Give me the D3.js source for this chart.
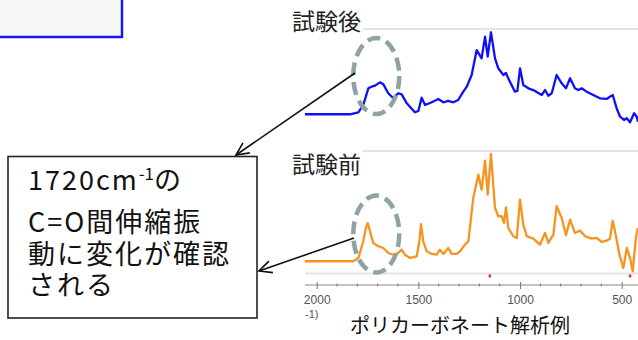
<!DOCTYPE html>
<html><head><meta charset="utf-8">
<script src="https://cdn.jsdelivr.net/npm/d3@7/dist/d3.min.js"></script>
<style>body{margin:0;background:#fff;}svg{display:block;}</style>
</head><body>
<svg id="c" width="638" height="340"></svg>
<script>
// ---- data ----
const afterWavenumber = [2058,1836,1795,1771,1746,1730,1713,1689,1672,1648,1623,1599,1582,1557,1517,1500,1484,1467,1434,1402,1377,1353,1328,1304,1279,1262,1238,1213,1189,1172,1159,1143,1123,1107,1082,1069,1058,1025,1013,1000,984,959,935,893,877,861,844,820,795,774,754,730,713,697,672,640,607,574,558,544,525,508,489,475,459,439,426,420];
const afterIntensity  = [11.3,11.3,13.4,21.1,38.6,40.3,41.4,44.9,42.8,33.4,28.1,33.4,32.3,22.8,13.4,14.7,28.7,21.1,23.9,27.4,23.9,25.3,23.9,26.3,35.1,40.3,52.6,78.9,70.2,92.9,71.9,97.6,70.2,59.7,52.6,54.7,49.1,35.1,35.8,59.7,42.1,38.6,36.8,31.6,36.8,30.8,33.4,52.6,43.9,38.6,49.2,38.6,36.8,38.6,35.1,31.6,28.1,27.4,29.8,31.6,17.6,8.7,5.3,7.1,2.8,12.3,8.7,3.5];
const beforeWavenumber = [2058,1820,1795,1771,1758,1749,1738,1722,1697,1672,1648,1615,1590,1582,1566,1541,1508,1495,1487,1476,1459,1434,1410,1394,1377,1353,1336,1311,1295,1271,1254,1230,1205,1189,1172,1159,1143,1123,1107,1090,1079,1069,1058,1033,1016,1000,984,967,935,902,877,861,836,820,795,774,754,730,705,680,648,623,598,574,558,544,528,512,492,475,459,446,430,420];
const beforeIntensity  = [8.8,8.8,11.5,25.2,36.1,40.2,33.4,23.8,21.1,19.7,15.6,13.7,17.0,18.3,14.2,11.5,12.9,25.2,39.3,25.2,17.0,14.8,14.2,18.3,14.8,19.7,14.8,14.8,17.0,22.4,25.2,60.7,79.8,67.5,91.2,63.4,96.7,52.5,45.7,45.7,40.2,53.0,36.1,29.3,27.9,59.3,38.8,29.3,27.3,22.4,32.0,23.8,30.6,53.9,44.3,30.1,42.9,32.0,33.9,29.3,27.3,27.9,24.6,25.7,27.3,42.0,29.3,14.8,3.3,19.7,11.5,0.6,28.4,36.1];
const majorTicks = [2000,1500,1000,500];
const minorTicks = [1900,1800,1700,1600,1400,1300,1200,1100,900,800,700,600];
const peakMarks = [1150,460];
const panelLabels = ["試験後","試験前"];
const titleText = "ポリカーボネート解析例";
const unitFragment = "-1)";
const noteLines = ["C=O間伸縮振","動に変化が確認","される"];
const noteFirst = ["1720cm","-1","の"];
const highlightWavenumber = 1712;

// ---- drawing ----
const svg = d3.select("#c");
const cjk = "'Noto Sans CJK JP','Noto Sans',sans-serif";

const x = d3.scaleLinear().domain([2000,500]).range([316.7,621.7]);
const yTop = d3.scaleLinear().domain([0,100]).range([125,30]);
const yBot = d3.scaleLinear().domain([0,100]).range([272,150]);

svg.append("defs").append("clipPath").attr("id","clip")
  .append("rect").attr("x",300).attr("y",0).attr("width",338).attr("height",340);

// top-left partial box
svg.append("rect").attr("x",-3).attr("y",-3).attr("width",125).attr("height",40)
  .attr("fill","#f7f7f7").attr("stroke","#1a1ae6").attr("stroke-width",2.5);

// panel separator lines
const sep = [[363,638,29],[363,638,151],[305,638,273.5]];
svg.selectAll("line.sep").data(sep).enter().append("line").attr("class","sep")
  .attr("x1",d=>d[0]).attr("x2",d=>d[1]).attr("y1",d=>d[2]).attr("y2",d=>d[2])
  .attr("stroke","#e4e4e4").attr("stroke-width",2);

// panel labels
svg.selectAll("text.pl").data(panelLabels).enter().append("text").attr("class","pl")
  .attr("x",292).attr("y",(d,i)=>i===0?30:173)
  .attr("font-family",cjk).attr("font-size",23).attr("fill","#222").text(d=>d);

// spectra
const lineTop = d3.line().x(d=>x(d[0])).y(d=>yTop(d[1]));
const lineBot = d3.line().x(d=>x(d[0])).y(d=>yBot(d[1]));
const g = svg.append("g").attr("clip-path","url(#clip)");
g.append("path").datum(afterWavenumber.map((w,i)=>[w,afterIntensity[i]]))
  .attr("d",lineTop).attr("fill","none").attr("stroke","#1010f5").attr("stroke-width",2.3)
  .attr("stroke-linejoin","round");
g.append("path").datum(beforeWavenumber.map((w,i)=>[w,beforeIntensity[i]]))
  .attr("d",lineBot).attr("fill","none").attr("stroke","#f7931e").attr("stroke-width",2.3)
  .attr("stroke-linejoin","round");

// small red peak markers
g.selectAll("rect.pm").data(peakMarks).enter().append("rect").attr("class","pm")
  .attr("x",d=>x(d)-1).attr("y",274.5).attr("width",2.5).attr("height",3).attr("fill","#f03030");

// axis
const axisY = 285;
svg.append("line").attr("x1",305).attr("x2",638).attr("y1",axisY).attr("y2",axisY)
  .attr("stroke","#888").attr("stroke-width",1);
const axis = d3.axisBottom(x).tickValues(majorTicks).tickSize(4).tickPadding(6).tickFormat(d3.format("d"));
const ga = svg.append("g").attr("transform",`translate(0,${axisY})`).call(axis);
ga.select(".domain").remove();
ga.selectAll(".tick line").attr("y1",-3).attr("stroke","#777");
ga.selectAll(".tick text").attr("font-family","'Liberation Sans Narrow','Liberation Sans',sans-serif")
  .attr("font-size",12).attr("fill","#555");
svg.selectAll("line.minor").data(minorTicks).enter().append("line").attr("class","minor")
  .attr("x1",d=>x(d)).attr("x2",d=>x(d)).attr("y1",axisY-1.5).attr("y2",axisY+1.5)
  .attr("stroke","#777");
svg.append("text").attr("x",305).attr("y",318).attr("font-family","'Liberation Sans Narrow','Liberation Sans',sans-serif")
  .attr("font-size",11).attr("fill","#555").text(unitFragment);

// title
svg.append("text").attr("x",350).attr("y",333).attr("font-family",cjk).attr("font-size",20)
  .attr("fill","#111").text(titleText);

// dashed ellipses
const ell = [[76,23,38],[234,23,38.5]];
svg.selectAll("ellipse.hl").data(ell).enter().append("ellipse").attr("class","hl")
  .attr("cx",x(highlightWavenumber)+1).attr("cy",d=>d[0]).attr("rx",d=>d[1]).attr("ry",d=>d[2])
  .attr("fill","none").attr("stroke","#8fa3a4").attr("stroke-width",4.5).attr("stroke-dasharray","13 6.5");

// annotation box
svg.append("rect").attr("x",8).attr("y",156.5).attr("width",249).attr("height",161.5)
  .attr("fill","#fff").attr("stroke","#222").attr("stroke-width",1.6);
const note = svg.append("text").attr("x",28).attr("y",190).attr("font-family",cjk)
  .attr("font-size",27).attr("fill","#111");
note.append("tspan").attr("letter-spacing",2).text(noteFirst[0]);
note.append("tspan").attr("font-size",17).attr("dy",-10).text(noteFirst[1]);
note.append("tspan").attr("dy",10).text(noteFirst[2]);
const dys = [42,32,31];
noteLines.forEach((s,i)=>{
  note.append("tspan").attr("x",28).attr("dy",dys[i]).attr("letter-spacing",2).text(s);
});

// arrows
const arrows = [[[355,73],[236,155]],[[354,238],[259,271]]];
arrows.forEach(([s,t])=>{
  svg.append("line").attr("x1",s[0]).attr("y1",s[1]).attr("x2",t[0]).attr("y2",t[1])
    .attr("stroke","#111").attr("stroke-width",1.6);
  const ang = Math.atan2(t[1]-s[1],t[0]-s[0]);
  const L = 14, th = 0.45;
  const pts = [[t[0]-L*Math.cos(ang-th), t[1]-L*Math.sin(ang-th)], t, [t[0]-L*Math.cos(ang+th), t[1]-L*Math.sin(ang+th)]];
  svg.append("path").attr("d",d3.line()(pts)).attr("fill","none").attr("stroke","#111").attr("stroke-width",1.6);
});
</script>
</body></html>
